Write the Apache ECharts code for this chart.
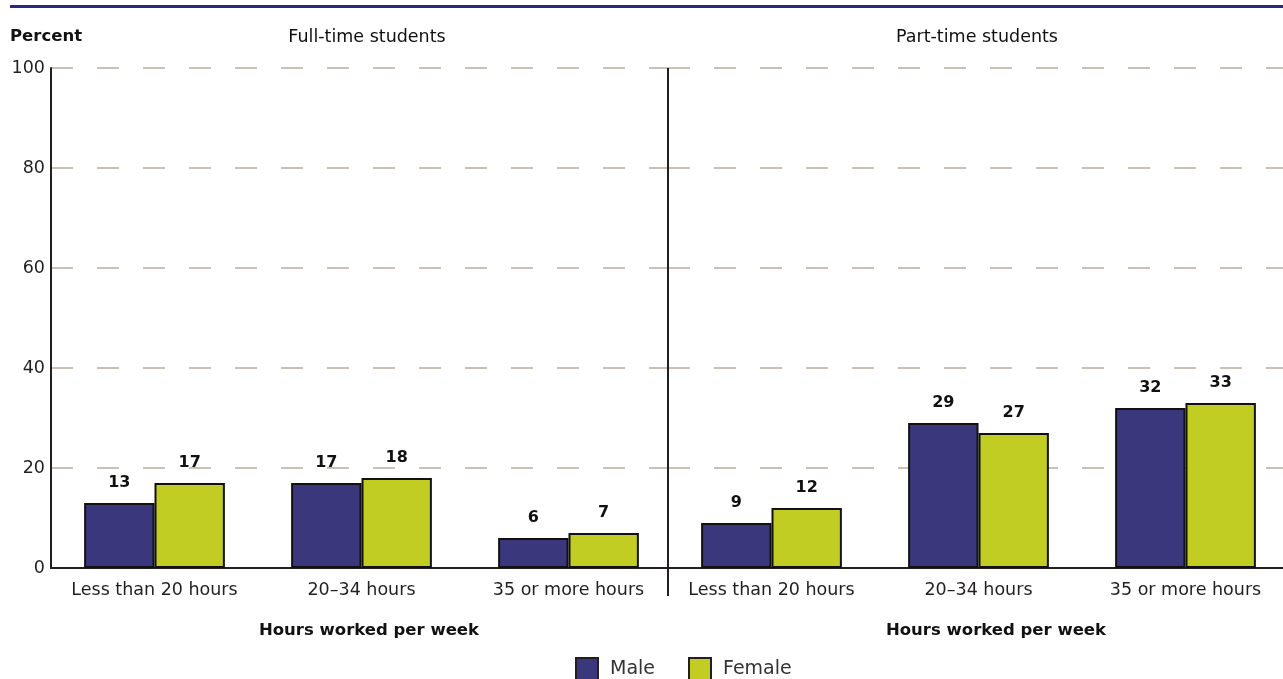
<!DOCTYPE html>
<html>
<head>
<meta charset="utf-8">
<script src="https://cdn.jsdelivr.net/npm/echarts@6/dist/echarts.min.js"></script>
<style>
  html, body { margin: 0; padding: 0; background: #fff; }
  #chart { width: 1283px; height: 679px; }
</style>
</head>
<body>
<div id="chart"></div>
<script>
// Categories and values
var hourCategories = ['Less than 20 hours', '20\u201334 hours', '35 or more hours'];
var yTicks = [0, 20, 40, 60, 80, 100];
var fullTimeMale = [13, 17, 6];
var fullTimeFemale = [17, 18, 7];
var partTimeMale = [9, 29, 32];
var partTimeFemale = [12, 27, 33];

var FONT = 'DejaVu Sans';
var INK = '#231f20';
var MALE = '#3b377c';
var FEMALE = '#c2cd23';
var GRID = '#c8c1b5';

var chart = echarts.init(document.getElementById('chart'));

function xAxisFor(idx) {
  return {
    type: 'category', gridIndex: idx, data: hourCategories,
    axisLine: { show: true, lineStyle: { color: INK, width: 2 } },
    axisTick: { show: false },
    axisLabel: { color: INK, fontFamily: FONT, fontSize: 17.5, margin: 13,
      interval: 0, hideOverlap: false }
  };
}
function yAxisFor(idx, showLabels) {
  return {
    type: 'value', gridIndex: idx, min: 0, max: 100, interval: 20,
    axisLine: { show: showLabels, lineStyle: { color: INK, width: 2 } },
    axisTick: { show: false },
    axisLabel: { show: showLabels, color: INK, fontFamily: FONT, fontSize: 17.5, margin: 6,
      formatter: function (v) { return yTicks.indexOf(v) >= 0 ? String(v) : ''; } },
    splitLine: { show: true, lineStyle: { color: GRID, width: 2, type: [22, 24] } }
  };
}
function barSeries(name, data, color, idx) {
  return {
    name: name, type: 'bar', data: data, xAxisIndex: idx, yAxisIndex: idx,
    barWidth: '34%', barGap: '0%',
    itemStyle: { color: color, borderColor: '#111', borderWidth: 2 },
    label: { show: true, position: 'top', distance: 12, color: '#111',
      fontFamily: FONT, fontSize: 16, fontWeight: 'bold' },
    emphasis: { disabled: true }
  };
}

var titleNormal = { fontFamily: FONT, fontSize: 17.5, fontWeight: 'normal', color: '#111' };
var titleBold = { fontFamily: FONT, fontSize: 16.5, fontWeight: 'bold', color: '#111' };

chart.setOption({
  animation: false,
  grid: [
    { left: 51, top: 68, width: 621, height: 500, outerBoundsMode: 'none' },
    { left: 668, top: 68, width: 621, height: 500, outerBoundsMode: 'none' }
  ],
  xAxis: [xAxisFor(0), xAxisFor(1)],
  yAxis: [yAxisFor(0, true), yAxisFor(1, false)],
  legend: {
    top: 652, left: 570, itemWidth: 22, itemHeight: 22, itemGap: 33,
    icon: 'rect',
    textStyle: { color: '#333', fontFamily: FONT, fontSize: 19, padding: [0, 0, 0, 7] },
    data: [
      { name: 'Male', itemStyle: { color: MALE, borderColor: '#231f20', borderWidth: 2 } },
      { name: 'Female', itemStyle: { color: FEMALE, borderColor: '#231f20', borderWidth: 2 } }
    ]
  },
  title: [
    { text: 'Percent', left: 5, top: 23, textStyle: titleBold },
    { text: 'Full-time students', left: 362, top: 23, textAlign: 'center', textStyle: titleNormal },
    { text: 'Part-time students', left: 972, top: 23, textAlign: 'center', textStyle: titleNormal },
    { text: 'Hours worked per week', left: 364, top: 617, textAlign: 'center', textStyle: titleBold },
    { text: 'Hours worked per week', left: 991, top: 617, textAlign: 'center', textStyle: titleBold }
  ],
  graphic: [
    { type: 'line', shape: { x1: 10, y1: 6.5, x2: 1283, y2: 6.5 }, style: { stroke: '#2d2a7e', lineWidth: 3 }, silent: true },
    { type: 'line', shape: { x1: 668, y1: 68, x2: 668, y2: 596 }, style: { stroke: INK, lineWidth: 2 }, z: 10, silent: true }
  ],
  series: [
    barSeries('Male', fullTimeMale, MALE, 0),
    barSeries('Female', fullTimeFemale, FEMALE, 0),
    barSeries('Male', partTimeMale, MALE, 1),
    barSeries('Female', partTimeFemale, FEMALE, 1)
  ]
});
</script>
</body>
</html>
